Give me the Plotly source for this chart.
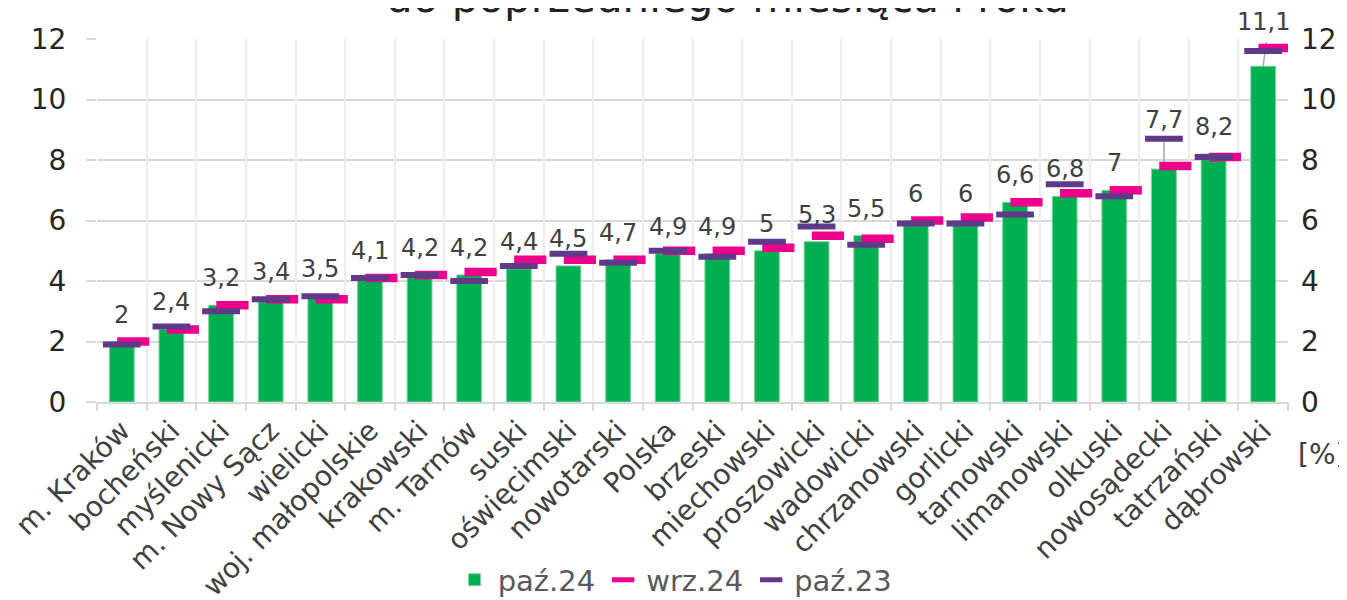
import plotly.graph_objects as go

categories = ["m. Kraków", "bocheński", "myślenicki", "m. Nowy Sącz", "wielicki",
              "woj. małopolskie", "krakowski", "m. Tarnów", "suski", "oświęcimski",
              "nowotarski", "Polska", "brzeski", "miechowski", "proszowicki",
              "wadowicki", "chrzanowski", "gorlicki", "tarnowski", "limanowski",
              "olkuski", "nowosądecki", "tatrzański", "dąbrowski"]
paz24 = [2, 2.4, 3.2, 3.4, 3.5, 4.1, 4.2, 4.2, 4.4, 4.5, 4.7, 4.9, 4.9, 5, 5.3, 5.5,
         6, 6, 6.6, 6.8, 7, 7.7, 8.2, 11.1]
wrz24 = [2.0, 2.4, 3.2, 3.4, 3.4, 4.1, 4.2, 4.3, 4.7, 4.7, 4.7, 5.0, 5.0, 5.1, 5.5, 5.4,
         6.0, 6.1, 6.6, 6.9, 7.0, 7.8, 8.1, 11.7]
paz23 = [1.9, 2.5, 3.0, 3.4, 3.5, 4.1, 4.2, 4.0, 4.5, 4.9, 4.6, 5.0, 4.8, 5.3, 5.8, 5.2,
         5.9, 5.9, 6.2, 7.2, 6.8, 8.7, 8.1, 11.6]
y_ticks = [0, 2, 4, 6, 8, 10, 12]
series_names = ["paź.24", "wrz.24", "paź.23"]
title_text = "do poprzedniego miesiąca i roku"
unit_text = "[%]"

FONT = "DejaVu Sans"
GREEN = "#00B050"
PINK = "#EC008C"
PURPLE = "#603A88"
GRID = "#D9D9D9"

n = len(categories)
idx = list(range(n))
pink_offset = 0.23

fig = go.Figure()
fig.add_trace(go.Bar(
    x=idx, y=paz24, name=series_names[0], width=0.5,
    marker=dict(color=GREEN, line=dict(color="#7FD3A0", width=1)),
))
fig.add_trace(go.Scatter(
    x=[i + pink_offset for i in idx], y=wrz24, name=series_names[1], mode="markers",
    marker=dict(symbol="line-ew", size=23, color=PINK, line=dict(color=PINK, width=8.5)),
))
fig.add_trace(go.Scatter(
    x=idx, y=paz23, name=series_names[2], mode="markers",
    marker=dict(symbol="line-ew", size=27, color=PURPLE, line=dict(color=PURPLE, width=6)),
))
# invisible helper traces so that the boundary axis and the right axis are rendered
fig.add_trace(go.Scatter(x=[-0.5], y=[0], xaxis="x2", mode="markers",
                         marker=dict(opacity=0), showlegend=False, hoverinfo="skip"))
fig.add_trace(go.Scatter(x=[-0.5], y=[0], yaxis="y2", mode="markers",
                         marker=dict(opacity=0), showlegend=False, hoverinfo="skip"))

# data labels
label_shift = {21: 49, 23: 44}
leader = {21: (0, 29), 23: (3, 24)}
annotations = []
for i, v in enumerate(paz24):
    annotations.append(dict(
        x=i, y=v, xref="x", yref="y", text=f"{v:g}".replace(".", ","),
        showarrow=False, yanchor="middle", yshift=label_shift.get(i, 27),
        font=dict(family=FONT, size=24, color="#404040"),
    ))
shapes = []
for i, (dx, dy) in leader.items():
    shapes.append(dict(
        type="line", xref="x", yref="y", xsizemode="pixel", ysizemode="pixel",
        xanchor=i, yanchor=paz24[i], x0=0, x1=dx, y0=0, y1=dy,
        line=dict(color="#A6A6A6", width=1.5), layer="between",
    ))

annotations.append(dict(
    x=0.529, y=1.115, xref="paper", yref="paper", text=title_text, showarrow=False,
    xanchor="center", yanchor="middle", font=dict(family=FONT, size=42, color="#222222"),
))
annotations.append(dict(
    x=1.0285, y=-0.146, xref="paper", yref="paper", text=unit_text, showarrow=False,
    xanchor="center", yanchor="middle", font=dict(family=FONT, size=28, color="#404040"),
))

xr = [-0.5, n - 0.5]
fig.update_layout(
    width=1347, height=600,
    margin=dict(l=89, r=67, t=31, b=206, autoexpand=False),
    paper_bgcolor="white", plot_bgcolor="white",
    font=dict(family=FONT, color="#404040"),
    showlegend=True,
    legend=dict(orientation="h", x=0.485, xanchor="center", y=-0.49, yanchor="middle",
                font=dict(family=FONT, size=29, color="#595959"), itemwidth=36),
    xaxis=dict(range=xr, tickmode="array", tickvals=idx, ticktext=categories,
               tickangle=-45, showgrid=False, ticks="", zeroline=False, automargin=False,
               showline=True, linecolor=GRID, linewidth=2, ticklabelstandoff=-1,
               tickfont=dict(family=FONT, size=28, color="#404040")),
    xaxis2=dict(range=xr, overlaying="x", anchor="y", side="bottom", automargin=False,
                tickmode="array", tickvals=[i - 0.5 for i in range(n + 1)],
                showticklabels=False, showgrid=True, gridcolor="#EDEDED", gridwidth=2,
                ticks="outside", ticklen=8, tickcolor=GRID, tickwidth=2, zeroline=False),
    yaxis=dict(range=[0, 12], tickmode="array", tickvals=y_ticks, showgrid=True,
               gridcolor=GRID, gridwidth=2, zeroline=False, ticks="outside", ticklen=10,
               tickcolor=GRID, tickwidth=2, ticklabelstandoff=14, automargin=False,
               tickfont=dict(family=FONT, size=28, color="#262626")),
    yaxis2=dict(range=[0, 12], tickmode="array", tickvals=y_ticks, overlaying="y",
                side="right", anchor="x", showgrid=False, zeroline=False, ticks="",
                ticklabelstandoff=12, automargin=False,
                tickfont=dict(family=FONT, size=28, color="#262626")),
    annotations=annotations,
    shapes=shapes,
    bargap=0.5,
)

fig.write_html("out.html")
